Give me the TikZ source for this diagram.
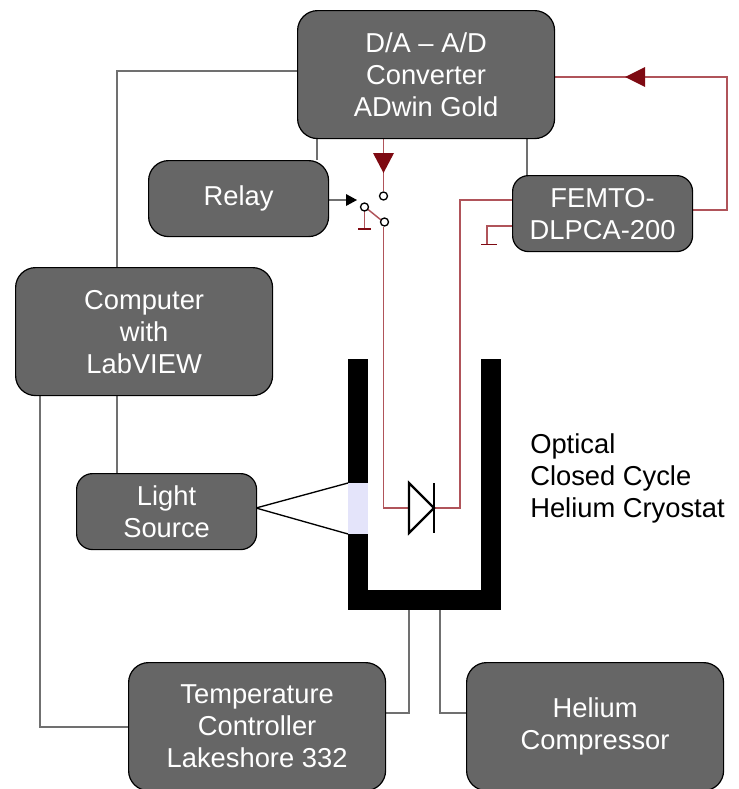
\documentclass[tikz,border=0pt]{standalone}
\usepackage{fontspec}
\setmainfont{Liberation Sans}
\definecolor{boxgray}{HTML}{666666}
\definecolor{wiregray}{HTML}{707070}
\definecolor{wirered}{HTML}{B0545A}
\definecolor{tipred}{HTML}{7E0A12}
\definecolor{winfill}{HTML}{E4E4FA}
\tikzset{
  x=0.75pt,y=-0.75pt,
  blk/.style={draw=black,line width=0.9pt,fill=boxgray,rounded corners=15pt,text=white,align=center,font=\fontsize{20.5}{24}\selectfont,inner sep=0pt,anchor=north west},
  gwire/.style={draw=wiregray,line width=1.1pt},
  rwire/.style={draw=wirered,line width=1.1pt},
  term/.style={circle,draw=black,fill=white,line width=1pt,minimum size=6pt,inner sep=0pt},
  wall/.style={fill=black},
  tipr/.style={fill=tipred,draw=none},
  lbl/.style={align=left,anchor=north west,font=\fontsize{20.5}{24}\selectfont,inner sep=0pt}
}
\begin{document}
\begin{tikzpicture}
\useasboundingbox (0,0) rectangle (739,789);
% coordinates
\coordinate (adcl) at (297,71);
\coordinate (cl1) at (117,71);
\coordinate (a1) at (317,138);
\coordinate (a2) at (527,138);
\coordinate (a3) at (383.5,138);
\coordinate (ar) at (554,77);
\coordinate (rc) at (727,77);
\coordinate (rc2) at (727,210);
% wires first
\draw[gwire] (297,71) -- (cl1) -- (117,267);
\draw[gwire] (117,395) -- (117,473);
\draw[gwire] (40,395) -- (40,727) -- (128,727);
\draw[gwire] (317,138) -- (317,160);
\draw[gwire] (527,138) -- (527,175);
\draw[gwire] (385,713) -- (409,713) -- (409,610);
\draw[gwire] (466,713) -- (440,713) -- (440,610);
\draw[gwire] (328,200) -- (346,200);
\fill[black] (346,194) -- (357,200) -- (346,206) -- cycle;
% red
\draw[rwire] (ar) -- (rc) -- (rc2) -- (692,210);
\fill[tipred] (625,77) -- (645,67) -- (645,87) -- cycle;
\draw[rwire] (a3) -- (383.5,191);
\fill[tipred] (373,153) -- (394,153) -- (383.5,173) -- cycle;
\draw[rwire] (383.5,227) -- (383.5,508) -- (409,508);
\draw[rwire] (434,508) -- (460,508) -- (460,200) -- (512,200);
\draw[rwire] (512,226) -- (487,226) -- (487,244);
\draw[tipred,line width=1pt] (481,244.5) -- (497,244.5);
\draw[rwire] (365,207) -- (383.5,222);
\draw[rwire] (364.5,207) -- (364.5,229);
\draw[tipred,line width=1pt] (358,229) -- (371,229);
\node[term] (t1) at (383.5,196) {};
\node[term] (t2) at (384.5,222) {};
\node[term] (t3) at (364.5,207) {};
% cryostat
\fill[wall] (348,359) rectangle (368,483);
\fill[wall] (348,534) rectangle (368,590);
\fill[wall] (481,359) rectangle (501,590);
\fill[wall] (348,590) rectangle (501,610);
\fill[winfill] (348,483) rectangle (368,534);
\draw[black,line width=1pt] (256,508) -- (348,483);
\draw[black,line width=1pt] (256,508) -- (348,534);
% diode
\draw[black,line width=1.7pt,line join=miter] (409,483) -- (434,508) -- (409,533) -- cycle;
\draw[black,line width=1.7pt] (434,483) -- (434,533);
% boxes
\node[blk,minimum width=192.75pt*1,minimum height=96pt] (adc) at (297,10) {D/A -- A/D\\Converter\\ADwin Gold};
\node[blk,minimum width=135pt,minimum height=57pt] (relay) at (148,160) {Relay};
\node[blk,minimum width=135pt,minimum height=57pt,rounded corners=12pt] (femto) at (512,175) {FEMTO-\\DLPCA-200};
\node[blk,minimum width=192.75pt,minimum height=96pt] (comp) at (15,267) {Computer\\with\\LabVIEW};
\node[blk,minimum width=135pt,minimum height=57pt,rounded corners=12pt] (light) at (76,473) {Light\\Source};
\node[blk,minimum width=192.75pt,minimum height=96pt] (temp) at (128,662) {Temperature\\Controller\\Lakeshore 332};
\node[blk,minimum width=192.75pt,minimum height=96pt] (comp2) at (466,662) {Helium\\Compressor};
\node[lbl] (cryo) at (530,433) {Optical\\Closed Cycle\\Helium Cryostat};
\end{tikzpicture}
\end{document}
